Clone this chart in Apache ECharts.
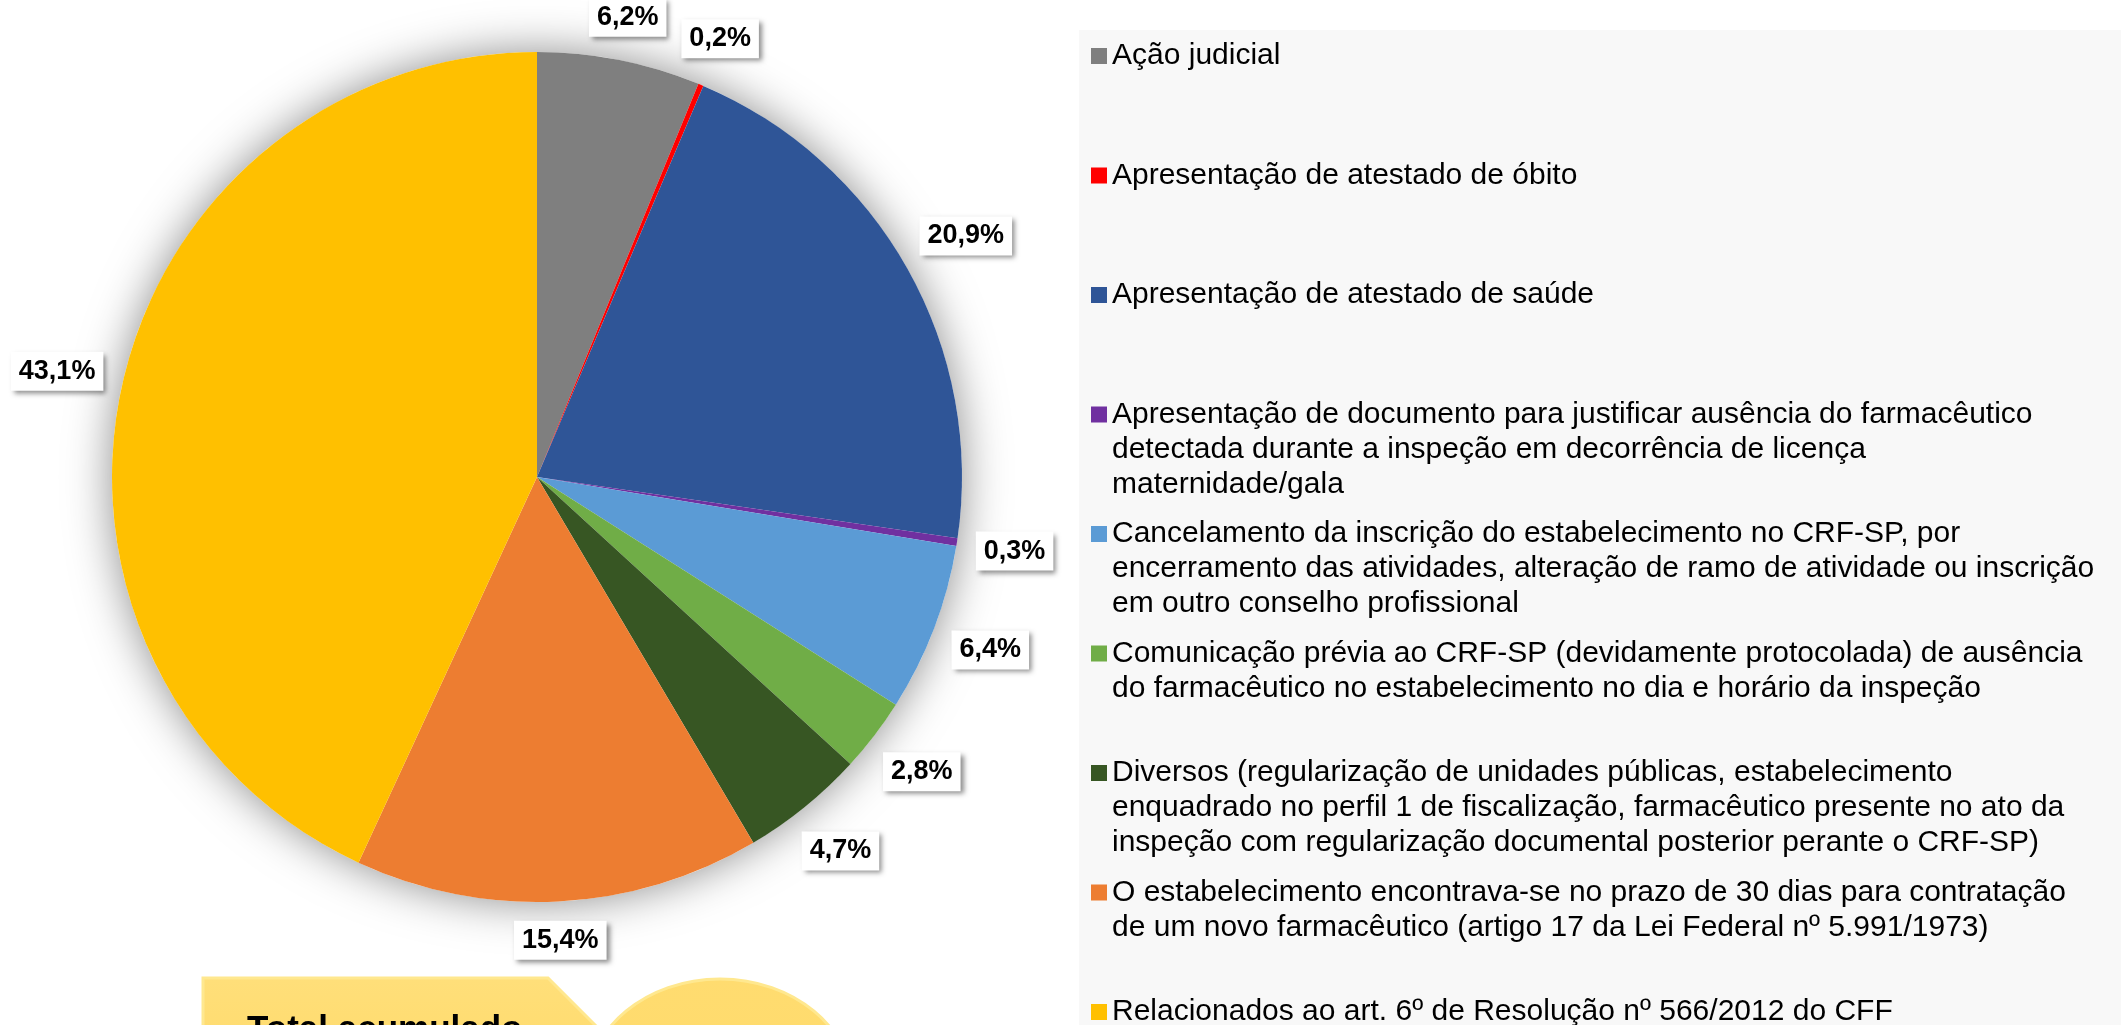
<!DOCTYPE html>
<html>
<head>
<meta charset="utf-8">
<title>Total acumulado</title>
<script src="https://cdn.jsdelivr.net/npm/echarts@6/dist/echarts.min.js"></script>
<style>
    html, body { margin: 0; padding: 0; background: #fff; }
    #container { width: 2121px; height: 1025px; }
</style>
</head>
<body>
<div id="container"></div>
<script>
// categorias (quebras de linha como na legenda original)
var categories = [
    'Ação judicial',
    'Apresentação de atestado de óbito',
    'Apresentação de atestado de saúde',
    'Apresentação de documento para justificar ausência do farmacêutico\ndetectada durante a inspeção em decorrência de licença\nmaternidade/gala',
    'Cancelamento da inscrição do estabelecimento no CRF-SP, por\nencerramento das atividades, alteração de ramo de atividade ou inscrição\nem outro conselho profissional',
    'Comunicação prévia ao CRF-SP (devidamente protocolada) de ausência\ndo farmacêutico no estabelecimento no dia e horário da inspeção',
    'Diversos (regularização de unidades públicas, estabelecimento\nenquadrado no perfil 1 de fiscalização, farmacêutico presente no ato da\ninspeção com regularização documental posterior perante o CRF-SP)',
    'O estabelecimento encontrava-se no prazo de 30 dias para contratação\nde um novo farmacêutico (artigo 17 da Lei Federal nº 5.991/1973)',
    'Relacionados ao art. 6º de Resolução nº 566/2012 do CFF'
];
// percentuais
var values = [6.2, 0.2, 20.9, 0.3, 6.4, 2.8, 4.7, 15.4, 43.1];
var colors = ['#7f7f7f', '#ff0000', '#2f5597', '#7030a0', '#5b9bd5', '#70ad47', '#375623', '#ed7d31', '#ffc000'];
var calloutText = 'Total acumulado';

var PieModule = (function (echarts) {
    var chart;
    var font = '"Liberation Sans", Arial, sans-serif';
    var pieCenter = [537, 477];
    var pieRadius = 425;
    var labelGap = 17;
    var legendLineHeight = 35;
    var legendFirstLine = 56;
    var legendStep = 119.5;
    var legendTextX = 1112;

    function fmt(v) {
        return v.toFixed(1).replace('.', ',') + '%';
    }

    // rotulo fora da fatia, centrado na direcao do meio da fatia
    function placeLabel(params) {
        var idx = params.dataIndex;
        var total = 0, before = 0;
        for (var i = 0; i < values.length; i++) {
            total += values[i];
            if (i < idx) before += values[i];
        }
        var theta = (before + values[idx] / 2) / total * 2 * Math.PI;
        var dx = Math.sin(theta);
        var dy = -Math.cos(theta);
        var hw = params.labelRect.width / 2;
        var hh = params.labelRect.height / 2;
        var d = pieRadius + labelGap + Math.abs(dx) * hw + Math.abs(dy) * hh;
        return {
            x: pieCenter[0] + dx * d,
            y: pieCenter[1] + dy * d,
            align: 'center',
            verticalAlign: 'middle'
        };
    }

    // uma legenda por item: icone + primeira linha
    function buildLegends() {
        return categories.map(function (name, i) {
            return {
                data: [name],
                orient: 'vertical',
                left: 1091,
                top: legendFirstLine + i * legendStep - legendLineHeight / 2,
                padding: 0,
                itemWidth: 16,
                itemHeight: 16,
                icon: 'rect',
                selectedMode: false,
                itemStyle: { borderWidth: 0 },
                formatter: function (n) { return n.split('\n')[0]; },
                textStyle: {
                    fontFamily: font,
                    fontSize: 30,
                    lineHeight: legendLineHeight,
                    color: '#000'
                }
            };
        });
    }

    // linhas seguintes do texto da legenda
    function buildLegendRest() {
        var out = [];
        categories.forEach(function (name, i) {
            var lines = name.split('\n');
            if (lines.length < 2) return;
            out.push({
                type: 'text',
                z: 5,
                style: {
                    text: lines.slice(1).join('\n'),
                    x: legendTextX,
                    y: legendFirstLine + i * legendStep + legendLineHeight / 2,
                    verticalAlign: 'top',
                    lineHeight: legendLineHeight,
                    fill: '#000',
                    font: '30px ' + font
                }
            });
        });
        return out;
    }

    function init() {
        chart = echarts.init(document.getElementById('container'), null, { renderer: 'canvas' });
        var pieData = categories.map(function (name, i) {
            return { name: name, value: values[i], itemStyle: { color: colors[i] } };
        });

        var graphics = [{
            type: 'rect',
            z: 0,
            shape: { x: 1079, y: 30, width: 1042, height: 995 },
            style: { fill: '#f8f8f8' }
        }, {
            type: 'polygon',
            z: 1,
            shape: { points: [[203, 978], [548, 978], [608, 1038], [548, 1098], [203, 1098]] },
            style: {
                fill: new echarts.graphic.LinearGradient(0, 0, 0, 1, [
                    { offset: 0, color: '#ffdf7a' },
                    { offset: 1, color: '#ffd966' }
                ]),
                stroke: '#ffe88f',
                lineWidth: 3
            }
        }, {
            type: 'text',
            z: 2,
            style: {
                text: calloutText,
                x: 247,
                y: 1030,
                verticalAlign: 'middle',
                fill: '#000',
                font: 'bold 35px ' + font
            }
        }, {
            type: 'ellipse',
            z: 1,
            shape: { cx: 720, cy: 1089, rx: 133, ry: 110 },
            style: {
                fill: new echarts.graphic.LinearGradient(0, 0, 0, 1, [
                    { offset: 0, color: '#ffdc70' },
                    { offset: 1, color: '#ffd966' }
                ]),
                stroke: '#ffe88f',
                lineWidth: 3
            }
        }].concat(buildLegendRest());

        var option = {
            animation: false,
            backgroundColor: '#fff',
            graphic: graphics,
            legend: buildLegends(),
            series: [{
                // sombra suave atras da pizza
                type: 'pie',
                center: pieCenter,
                radius: pieRadius,
                silent: true,
                label: { show: false },
                labelLine: { show: false },
                itemStyle: {
                    color: '#ffffff',
                    borderWidth: 0,
                    shadowBlur: 45,
                    shadowColor: 'rgba(0,0,0,0.45)'
                },
                data: [{ name: 'sombra', value: 1 }]
            }, {
                type: 'pie',
                center: pieCenter,
                radius: pieRadius,
                startAngle: 90,
                clockwise: true,
                avoidLabelOverlap: false,
                itemStyle: { borderWidth: 0 },
                label: {
                    show: true,
                    position: 'outside',
                    formatter: function (p) { return fmt(p.value); },
                    fontFamily: font,
                    fontSize: 27,
                    fontWeight: 'bold',
                    color: '#000',
                    backgroundColor: '#fff',
                    padding: [6, 8, 6, 8],
                    shadowColor: 'rgba(0,0,0,0.45)',
                    shadowBlur: 5,
                    shadowOffsetX: 3,
                    shadowOffsetY: 3
                },
                labelLine: { show: false },
                labelLayout: placeLabel,
                emphasis: { disabled: true },
                data: pieData
            }]
        };
        chart.setOption(option);
    }

    return { init: init };
})(echarts);

PieModule.init();
</script>
</body>
</html>
